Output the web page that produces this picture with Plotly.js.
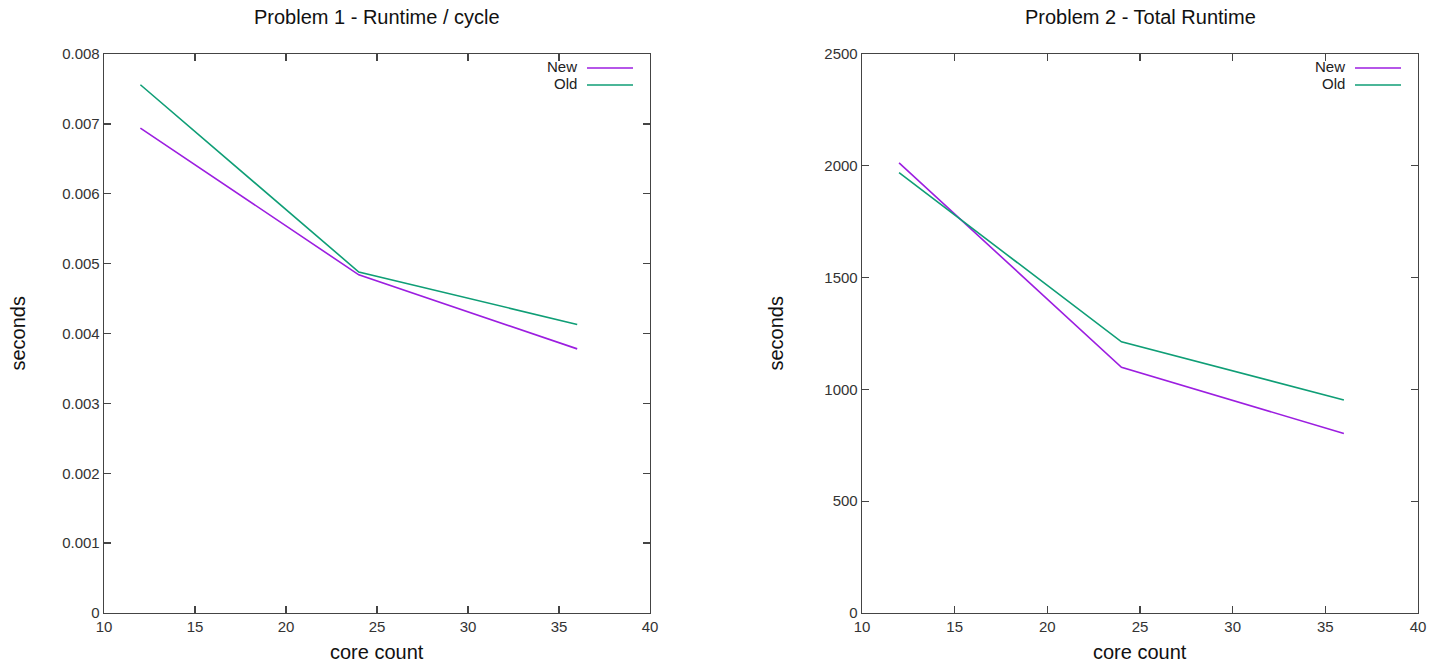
<!DOCTYPE html>
<html>
<head>
<meta charset="utf-8">
<script src="https://cdn.plot.ly/plotly-3.0.1.min.js"></script>
<style>html,body{margin:0;padding:0;background:#fff;}#chart{width:1443px;height:662px;}</style>
</head>
<body>
<div id="chart"></div>
<script>
// Data
const coreCounts = [12, 24, 36];
const p1New = [0.00694, 0.00484, 0.00378];
const p1Old = [0.00756, 0.00488, 0.00413];
const p2New = [2013, 1099, 803];
const p2Old = [1969, 1213, 953];
const seriesNames = ['New', 'Old'];
const seriesColors = ['#9c1ee0', '#0f9e76'];
const titles = ['Problem 1 - Runtime / cycle', 'Problem 2 - Total Runtime'];
const xTitle = 'core count';
const yTitle = 'seconds';
const p1YTicks = [0, 0.001, 0.002, 0.003, 0.004, 0.005, 0.006, 0.007, 0.008];
const p2YTicks = [0, 500, 1000, 1500, 2000, 2500];
const xTicks = [10, 15, 20, 25, 30, 35, 40];

const W = 1443;
const fam = 'Liberation Sans, Arial, sans-serif';
const font = {family: fam, color: '#222'};
const lineW = 1.6;

const traces = [
  {x: coreCounts, y: p1New, xaxis: 'x', yaxis: 'y', name: seriesNames[0], mode: 'lines', line: {color: seriesColors[0], width: lineW}, showlegend: false},
  {x: coreCounts, y: p1Old, xaxis: 'x', yaxis: 'y', name: seriesNames[1], mode: 'lines', line: {color: seriesColors[1], width: lineW}, showlegend: false},
  {x: coreCounts, y: p2New, xaxis: 'x2', yaxis: 'y2', name: seriesNames[0], mode: 'lines', line: {color: seriesColors[0], width: lineW}, showlegend: false},
  {x: coreCounts, y: p2Old, xaxis: 'x2', yaxis: 'y2', name: seriesNames[1], mode: 'lines', line: {color: seriesColors[1], width: lineW}, showlegend: false}
];

const d1 = [104 / W, 650 / W];
const d2 = [862 / W, 1418 / W];

function xa(domain, anchor) {
  return {
    domain: domain, anchor: anchor, range: [10, 40], tickvals: xTicks, ticktext: xTicks.map(String),
    ticks: 'inside', ticklen: 7, tickcolor: '#444', tickwidth: 1.3, mirror: 'ticks',
    showline: true, linecolor: '#444', linewidth: 1.3, showgrid: false, zeroline: false,
    tickfont: {family: fam, size: 15, color: '#333'}, fixedrange: true
  };
}
function ya(anchor, range, ticks, fmt) {
  return {
    anchor: anchor, domain: [0, 1], range: range, tickvals: ticks, ticktext: ticks.map(fmt),
    ticks: 'inside', ticklen: 7, tickcolor: '#444', tickwidth: 1.3, mirror: 'ticks',
    showline: true, linecolor: '#444', linewidth: 1.3, showgrid: false, zeroline: false,
    tickfont: {family: fam, size: 15, color: '#333'}, fixedrange: true
  };
}

const annotations = [];
const shapes = [];
[d1, d2].forEach((d, i) => {
  const cx = (d[0] + d[1]) / 2;
  annotations.push({text: titles[i], xref: 'paper', yref: 'paper', x: cx, y: 1, yshift: 37, xanchor: 'center', yanchor: 'middle', showarrow: false, font: {family: fam, size: 20, color: '#111'}});
  annotations.push({text: xTitle, xref: 'paper', yref: 'paper', x: cx, y: 0, yshift: -39, xanchor: 'center', yanchor: 'middle', showarrow: false, font: {family: fam, size: 20, color: '#111'}});
  annotations.push({text: yTitle, xref: 'paper', yref: 'paper', x: d[0], xshift: -87, y: 0.5, xanchor: 'center', yanchor: 'middle', textangle: -90, showarrow: false, font: {family: fam, size: 20, color: '#111'}});
  // legend (gnuplot style: label then line sample)
  seriesNames.forEach((nm, k) => {
    const yPix = 68 + k * 17; // from top of figure
    const yPaper = 1 - (yPix - 54) / 559;
    annotations.push({text: nm, xref: 'paper', yref: 'paper', x: d[1], xshift: -71, y: yPaper, yshift: 2, xanchor: 'right', yanchor: 'middle', showarrow: false, font: {family: fam, size: 15, color: '#222'}});
    shapes.push({type: 'line', xref: 'paper', yref: 'paper', x0: d[1] - 63 / W, x1: d[1] - 17 / W, y0: yPaper, y1: yPaper, line: {color: seriesColors[k], width: lineW}});
  });
});

const layout = {
  width: 1443, height: 662,
  margin: {l: 0, r: 0, t: 54, b: 49},
  paper_bgcolor: '#fff', plot_bgcolor: '#fff',
  font: font,
  showlegend: false,
  xaxis: xa(d1, 'y'),
  yaxis: ya('x', [0, 0.008], p1YTicks, v => v === 0 ? '0' : v.toFixed(3)),
  xaxis2: xa(d2, 'y2'),
  yaxis2: ya('x2', [0, 2500], p2YTicks, v => String(v)),
  annotations: annotations,
  shapes: shapes
};

Plotly.newPlot('chart', traces, layout, {displayModeBar: false, staticPlot: true});
</script>
</body>
</html>
